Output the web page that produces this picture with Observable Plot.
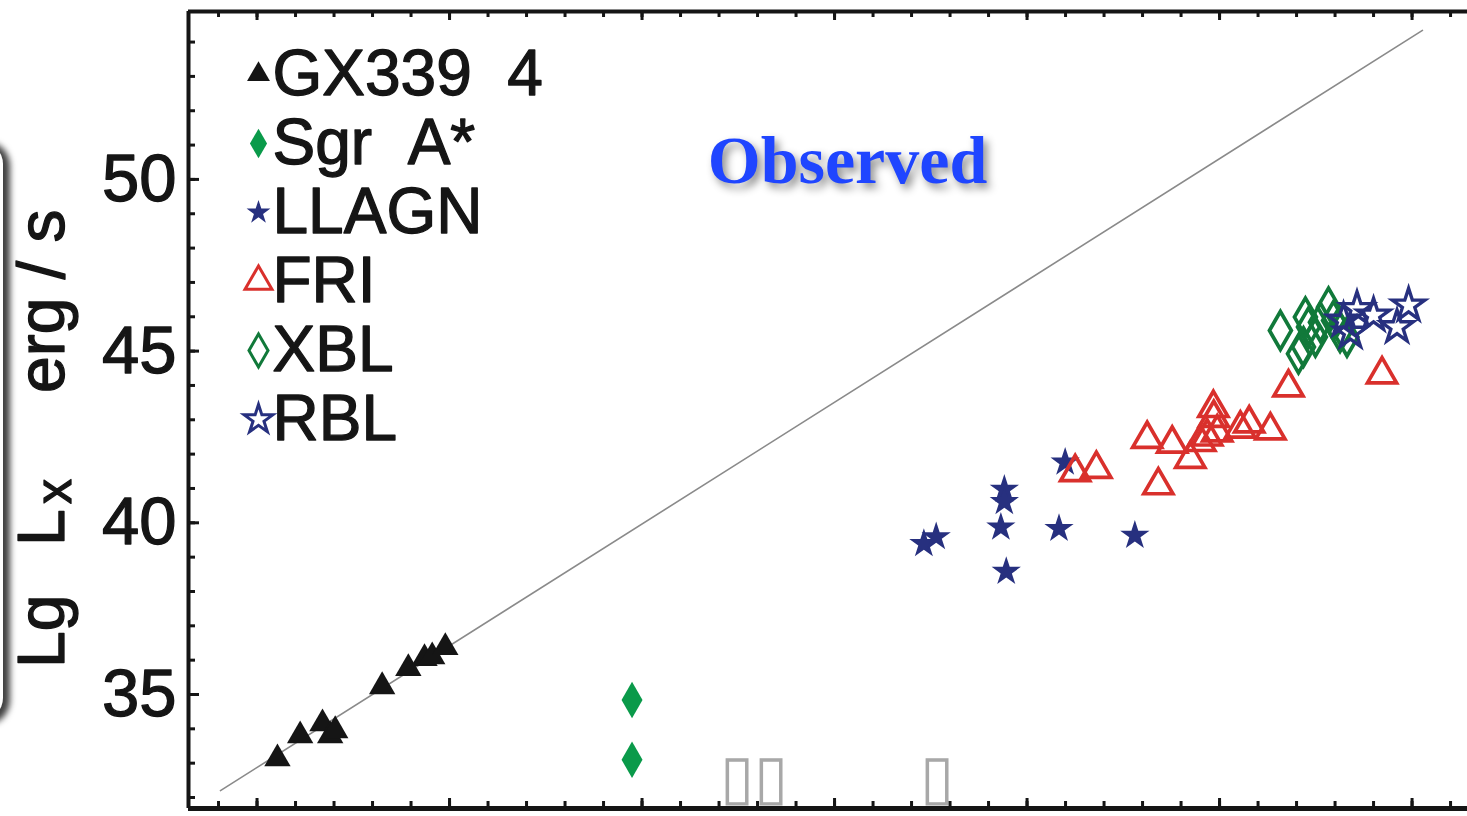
<!DOCTYPE html>
<html>
<head>
<meta charset="utf-8">
<script src="https://cdn.jsdelivr.net/npm/d3@7"></script>
<script src="https://cdn.jsdelivr.net/npm/@observablehq/plot@0.6"></script>
<style>
  html, body { margin: 0; padding: 0; background: #fff; }
  #wrap { position: relative; width: 1467px; height: 816px; overflow: hidden; background: #fff; }
  #panel { position: absolute; left: -300px; top: 142px; width: 303px; height: 578px;
           border-radius: 22px; background: #fff;
           box-shadow: 4px 2px 6px 3px rgba(0,0,0,0.75); }
  #chart { position: absolute; left: 0; top: 0; }
</style>
</head>
<body>
<div id="wrap"><div id="panel"></div><div id="chart"></div></div>
<script>
// ---- data ----
const gx339 = [[30.53,33.13],[31.12,33.80],[31.70,34.15],[31.90,33.80],[32.03,33.95],
               [33.25,35.23],[33.93,35.76],[34.35,36.05],[34.55,36.10],[34.89,36.37]];
const sgrA = [[39.74,34.84],[39.74,33.10]];
const llagn = [[47.32,39.39],[47.64,39.59],[49.41,40.97],[49.41,40.61],[49.32,39.87],
               [49.46,38.58],[50.83,39.83],[52.80,39.63],[50.99,41.76]];
const fri = [[51.25,41.47],[51.80,41.57],[53.12,42.44],[53.41,41.09],[53.77,42.30],
             [54.24,41.86],[54.50,42.35],[54.84,43.34],[54.85,43.05],[54.94,42.63],
             [54.68,42.51],[55.54,42.74],[55.77,42.89],[56.32,42.69],[56.79,43.94],[59.22,44.32]];
const xbl = [[56.58,45.60],[57.05,44.92],[57.18,45.12],[57.23,45.99],[57.31,45.70],
             [57.49,45.41],[57.62,45.84],[57.83,46.28],[57.96,45.89],[58.13,45.55],[58.31,45.41]];
const rbl = [[58.22,45.89],[58.57,46.23],[59.00,46.04],[59.61,45.70],[59.91,46.33],[58.40,45.54]];
const lineX = [29.05, 60.27];
const lineY = [32.20, 54.34];
const legendLabels = ["GX339\u00a0\u00a04", "Sgr\u00a0\u00a0A*", "LLAGN", "FRI", "XBL", "RBL"];
const yTickLabels = [35, 40, 45, 50];
const xMajorTicks = [30, 35, 40, 45, 50, 55, 60];
const xMinorTicks = d3.range(29, 62);
const yMinorTicks = d3.range(32, 55);
const tofuText = [{x: 42.90, y: 32.55, t: "\u25AF\u25AF"}, {x: 47.66, y: 32.55, t: "\u25AF"}];
const annotation = "Observed";

// ---- styles ----
const W = 1467, H = 816, mL = 188, mR = 0, mT = 11, mB = 8;
const fw = W - mL - mR, fh = H - mT - mB;
const xDomain = [28.22, 61.44], yDomain = [31.68, 54.89];
const cBlack = "#151515", cSgr = "#0a9a4a", cNavy = "#27307f", cRed = "#d9302c", cXbl = "#11793a";
const sans = "'Liberation Sans', Arial, Helvetica, sans-serif";
const bolden = {stroke: cBlack, strokeWidth: 1.3};

const series = [
  {data: gx339, symbol: "triangle", fill: cBlack, stroke: "none", r: 9.8, sw: 0, lr: 8.5},
  {data: sgrA, symbol: "diamond", fill: cSgr, stroke: "none", r: 11, sw: 0, lr: 9},
  {data: llagn, symbol: "star", fill: cNavy, stroke: "none", r: 9.2, sw: 0, lr: 7.5},
  {data: fri, symbol: "triangle", fill: "none", stroke: cRed, r: 10.8, sw: 3.7, lr: 10},
  {data: xbl, symbol: "diamond", fill: "none", stroke: cXbl, r: 11.5, sw: 3.7, lr: 10},
  {data: rbl, symbol: "star", fill: "none", stroke: cNavy, r: 10.2, sw: 3.4, lr: 9}
];

const legTop = 63, legStep = 69;
const marks = [];
marks.push(Plot.line(lineX.map((x, i) => ({x, y: lineY[i]})), {x: "x", y: "y", stroke: "#8a8a8a", strokeWidth: 1.6}));
marks.push(Plot.text(tofuText, {x: "x", y: "y", text: "t", fill: "#a8a8a8", fontSize: 62, fontFamily: "DejaVu Sans", fontWeight: 200}));
for (const s of series) {
  marks.push(Plot.dot(s.data, {x: d => d[0], y: d => d[1], symbol: () => s.symbol, r: s.r,
    fill: s.fill, stroke: s.stroke, strokeWidth: s.sw}));
}
// frame (left, top, bottom)
marks.push(Plot.ruleX([xDomain[0]], {stroke: cBlack, strokeWidth: 4}));
marks.push(Plot.ruleY([yDomain[1]], {stroke: cBlack, strokeWidth: 4}));
marks.push(Plot.ruleY([yDomain[0]], {stroke: cBlack, strokeWidth: 5}));
// inward ticks
marks.push(Plot.ruleY(yMinorTicks, {stroke: cBlack, strokeWidth: 3, insetRight: fw - 7}));
marks.push(Plot.ruleY(yTickLabels, {stroke: cBlack, strokeWidth: 3, insetRight: fw - 11}));
marks.push(Plot.ruleX(xMinorTicks, {stroke: cBlack, strokeWidth: 3, insetBottom: fh - 6}));
marks.push(Plot.ruleX(xMajorTicks, {stroke: cBlack, strokeWidth: 3, insetBottom: fh - 9}));
marks.push(Plot.ruleX(xMinorTicks, {stroke: cBlack, strokeWidth: 3, insetTop: fh - 7}));
marks.push(Plot.ruleX(xMajorTicks, {stroke: cBlack, strokeWidth: 3, insetTop: fh - 10}));
// y tick labels
marks.push(Plot.text(yTickLabels, {y: d => d, frameAnchor: "left", textAnchor: "end", lineAnchor: "middle", dx: -12,
  text: d => String(d), fontSize: 67, fontFamily: sans, fill: cBlack, ...bolden}));
// y axis title pieces
const yTitle = [
  {t: "Lg", dx: -146, dy: 258, fs: 66},
  {t: "L", dx: -146, dy: 136, fs: 66},
  {t: "x", dx: -134, dy: 94, fs: 50},
  {t: "erg / s", dx: -146, dy: -17, fs: 66}
];
for (const p of yTitle) {
  marks.push(Plot.text([p.t], {frameAnchor: "left", text: d => d, rotate: -90, textAnchor: "start", lineAnchor: "middle",
    dx: p.dx, dy: p.dy, fontSize: p.fs, fontFamily: sans, fill: cBlack, ...bolden}));
}
// legend
series.forEach((s, i) => {
  marks.push(Plot.dot([0], {frameAnchor: "top-left", dx: 70, dy: legTop + legStep * i,
    symbol: () => s.symbol, r: s.lr, fill: s.fill, stroke: s.stroke, strokeWidth: s.sw ? 3 : 0}));
  marks.push(Plot.text([legendLabels[i]], {frameAnchor: "top-left", dx: 84, dy: legTop + legStep * i,
    text: d => d, textAnchor: "start", lineAnchor: "middle", fontSize: 64, fontFamily: sans, fill: cBlack, ...bolden}));
});
// annotation
marks.push(Plot.text([annotation], {frameAnchor: "top-left", dx: 659, dy: 150, text: d => d,
  textAnchor: "middle", lineAnchor: "middle",
  fontSize: 68, fontWeight: "bold", fontFamily: "'Liberation Serif', 'DejaVu Serif', serif", fill: "#1f45ff"}));

const chart = Plot.plot({
  width: W, height: H, marginLeft: mL, marginRight: mR, marginTop: mT, marginBottom: mB,
  x: {domain: xDomain, axis: null},
  y: {domain: yDomain, axis: null},
  style: {background: "transparent", fontFamily: sans, overflow: "visible"},
  marks
});
document.getElementById("chart").appendChild(chart);
d3.select(chart).selectAll("text").filter(function() { return this.textContent === annotation; })
  .style("filter", "drop-shadow(4px 5px 4px rgba(0,0,0,0.45))");
</script>
</body>
</html>
